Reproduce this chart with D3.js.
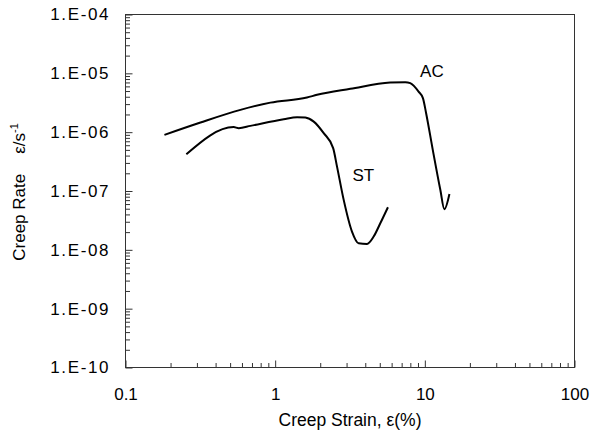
<!DOCTYPE html>
<html lang="en">
<head>
    <meta charset="UTF-8">
    <script src="https://cdnjs.cloudflare.com/ajax/libs/d3/7.8.5/d3.min.js"></script>
    <title>Creep Rate</title>
    <style>
        body { margin: 0; background: #fff; }
        text { font-family: "Liberation Sans", Arial, sans-serif; fill: #000; }
    </style>
</head>
<body>
    <script>
        // data (strain %, rate 1/s)
        var acStrain = [0.182, 0.317, 0.586, 0.929, 1.63, 1.905, 3.18, 5.87, 7.40, 7.99, 9.08, 9.71, 10.2, 11.3, 12.7, 13.5, 14.6];
        var acRate   = [9.0e-7, 1.46e-6, 2.39e-6, 3.18e-6, 3.88e-6, 4.31e-6, 5.45e-6, 6.98e-6, 7.08e-6, 6.81e-6, 4.90e-6, 3.79e-6, 2.10e-6, 5.0e-7, 1.04e-7, 4.9e-8, 8.9e-8];

        var stStrain = [0.255, 0.528, 0.571, 0.683, 1.14, 1.40, 1.59, 1.81, 2.11, 2.44, 2.59, 2.87, 3.26, 3.61, 4.11, 4.55, 5.04, 5.67];
        var stRate   = [4.22e-7, 1.22e-6, 1.17e-6, 1.28e-6, 1.66e-6, 1.80e-6, 1.77e-6, 1.51e-6, 9.6e-7, 5.35e-7, 2.6e-7, 7.06e-8, 2.04e-8, 1.29e-8, 1.26e-8, 1.68e-8, 2.83e-8, 5.3e-8];

        var seriesNames = ['AC', 'ST'];
        var labelStrain = [9.3, 3.28];
        var labelRate = [8.7e-6, 1.49e-7];

        var xTicks = [0.1, 1, 10, 100];
        var xTickLabels = ['0.1', '1', '10', '100'];
        var yTicks = [1e-10, 1e-9, 1e-8, 1e-7, 1e-6, 1e-5, 1e-4];
        var yTickLabels = ['1.E-10', '1.E-09', '1.E-08', '1.E-07', '1.E-06', '1.E-05', '1.E-04'];

        var margin = {top: 14.5, left: 125.5};
        var width = 449;
        var height = 353;

        var x = d3.scaleLog().domain([0.1, 100]).range([0, width]);
        var y = d3.scaleLog().domain([1e-10, 1e-4]).range([height, 0]);

        // minor ticks 2..9 in each decade
        var xMinor = [], yMinor = [];
        xTicks.slice(0, -1).forEach(function(d){ for (var k = 2; k < 10; k++) xMinor.push(d * k); });
        yTicks.slice(0, -1).forEach(function(d){ for (var k = 2; k < 10; k++) yMinor.push(d * k); });

        var svg = d3.select('body').append('svg')
                    .attr('width', 591)
                    .attr('height', 437);

        var g = svg.append('g')
                   .attr('transform', 'translate(' + margin.left + ',' + margin.top + ')');

        // minor ticks
        g.append('g').attr('transform', 'translate(0,' + height + ')')
            .call(d3.axisBottom(x).tickValues(xMinor).tickSize(-4.5).tickFormat(''));
        g.append('g')
            .call(d3.axisLeft(y).tickValues(yMinor).tickSize(-4.5).tickFormat(''));

        // major ticks + labels
        g.append('g').attr('class', 'xaxis').attr('transform', 'translate(0,' + height + ')')
            .call(d3.axisBottom(x).tickValues(xTicks).tickSize(-7).tickPadding(20.5)
                  .tickFormat(function(d, i){ return xTickLabels[i]; }));
        g.append('g').attr('class', 'yaxis')
            .call(d3.axisLeft(y).tickValues(yTicks).tickSize(-7).tickPadding(15.5)
                  .tickFormat(function(d, i){ return yTickLabels[i]; }));

        g.selectAll('.domain').remove();
        g.selectAll('.tick line').attr('stroke', '#333');
        g.selectAll('.tick text').style('font-size', '17px').attr('fill', '#000');
        g.selectAll('.yaxis .tick text').style('letter-spacing', '1.6px');

        // frame
        g.append('rect')
            .attr('width', width)
            .attr('height', height)
            .attr('fill', 'none')
            .attr('stroke', '#333')
            .attr('stroke-width', 1);

        var line = d3.line()
                     .x(function(d){ return x(d[0]); })
                     .y(function(d){ return y(d[1]); })
                     .curve(d3.curveMonotoneX);

        var series = [d3.zip(acStrain, acRate), d3.zip(stStrain, stRate)];

        g.selectAll('path.curve')
            .data(series)
            .enter()
                .append('path')
                .attr('class', 'curve')
                .attr('d', line)
                .attr('fill', 'none')
                .attr('stroke', '#000')
                .attr('stroke-width', 2)
                .attr('stroke-linejoin', 'round');

        g.selectAll('text.lbl')
            .data(seriesNames)
            .enter()
                .append('text')
                .attr('class', 'lbl')
                .attr('x', function(d, i){ return x(labelStrain[i]); })
                .attr('y', function(d, i){ return y(labelRate[i]); })
                .style('font-size', '17px')
                .text(function(d){ return d; });

        // axis titles
        svg.append('text')
            .attr('x', margin.left + width / 2)
            .attr('y', 426)
            .attr('text-anchor', 'middle')
            .style('font-size', '17.5px')
            .text('Creep Strain, ε(%)');

        var yt = svg.append('text')
            .attr('transform', 'translate(25,' + (margin.top + height / 2 + 1) + ') rotate(-90)')
            .attr('text-anchor', 'middle')
            .style('font-size', '17px');
        yt.append('tspan').text('Creep Rate');
        yt.append('tspan').attr('dx', 20).text('ε/s');
        yt.append('tspan').attr('dy', -7).style('font-size', '11px').text('-1');
    </script>
</body>
</html>
